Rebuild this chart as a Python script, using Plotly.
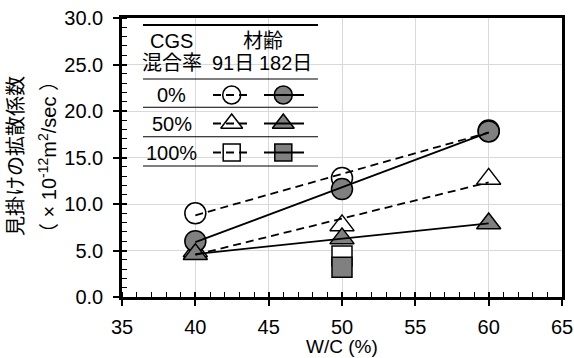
import numpy as np
import plotly.graph_objects as go

# ---------------- data ----------------
WC = [40, 50, 60]                      # W/C (%)
D_0_91 = [9.0, 12.8, 17.9]             # CGS 0%, 91 days
D_0_182 = [6.0, 11.6, 17.8]            # CGS 0%, 182 days
D_50_91 = [4.9, 7.7, 12.7]             # CGS 50%, 91 days
D_50_182 = [4.6, 6.3, 7.9]             # CGS 50%, 182 days
WC_100 = [50]
D_100_91 = [4.4]                       # CGS 100%, 91 days
D_100_182 = [3.2]                      # CGS 100%, 182 days

CGS_LABELS = ["0%", "50%", "100%"]
AGE_LABELS = ["91日", "182日"]
HEAD_1 = ["CGS", "材齢"]
HEAD_2 = "混合率"
X_TITLE = "W/C (%)"
Y_TITLE_1 = "見掛けの拡散係数"
Y_TITLE_2 = "（ × 10<sup>-12</sup>m<sup>2</sup>/sec ）"

# ---------------- style / geometry ----------------
W, H = 574, 358
ML, MR, MT, MB = 122, 12, 18, 61
PW, PH = W - ML - MR, H - MT - MB
FONT = "Liberation Sans, Arial, Noto Sans CJK JP, sans-serif"
FS = 20
GRAY = "#808080"
BLACK = "#000000"
GRID = "#d9d9d9"
DASH = "8px,5px"

def fx(px):
    return (px - ML) / PW

def fy(py):
    return (H - MB - py) / PH

fig = go.Figure()

# marker traces: 91-day (open) first, then 182-day (filled) on top
marker_specs = [
    (WC, D_0_91, "circle", "white", 21),
    (WC, D_50_91, "triangle-up", "white", 21),
    (WC_100, D_100_91, "square", "white", 20),
    (WC, D_0_182, "circle", GRAY, 21),
    (WC, D_50_182, "triangle-up", GRAY, 21),
    (WC_100, D_100_182, "square", GRAY, 20),
]
for xs, ys, sym, fill, size in marker_specs:
    fig.add_trace(go.Scatter(
        x=xs, y=ys, mode="markers", showlegend=False, hoverinfo="skip",
        marker=dict(symbol=sym, size=size, color=fill,
                    line=dict(color=BLACK, width=1.5)),
    ))

# linear trendlines (drawn above markers)
line_specs = [
    (D_0_91, DASH), (D_50_91, DASH), (D_0_182, "solid"), (D_50_182, "solid"),
]
for ys, dash in line_specs:
    k, b = np.polyfit(WC, ys, 1)
    xe = [WC[0], WC[-1]]
    fig.add_trace(go.Scatter(
        x=xe, y=[k * v + b for v in xe], mode="lines", showlegend=False,
        hoverinfo="skip", line=dict(color=BLACK, width=1.8, dash=dash),
    ))

# ---------------- legend table (custom) ----------------
LEG_X0, LEG_X1 = 143, 318
LEG_LINES_Y = [25, 79, 107.3, 136.7, 166]
ROW_Y = [95, 123.5, 152.5]
COL_X = [231.7, 283.3]
LINE_SPAN = [(213, 250), (264, 304)]
ROW_SYMS = ["circle", "triangle-up", "square"]
LEG_SIZES = [18, 19, 17]
COL_FILL = ["white", GRAY]
COL_DASH = [DASH, "solid"]

shapes = [dict(type="rect", xref="paper", yref="paper",
               x0=fx(LEG_X0 - 2), x1=fx(LEG_X1 + 2),
               y0=fy(LEG_LINES_Y[-1] + 1), y1=fy(LEG_LINES_Y[0]),
               fillcolor="white", line=dict(width=0), layer="between")]
for i, yy in enumerate(LEG_LINES_Y):
    shapes.append(dict(type="line", xref="paper", yref="paper",
                       x0=fx(LEG_X0), x1=fx(LEG_X1), y0=fy(yy), y1=fy(yy),
                       line=dict(color=BLACK, width=2.2 if i == 0 else 1.1),
                       layer="above"))

for r, ry in enumerate(ROW_Y):
    for c, cx in enumerate(COL_X):
        fig.add_trace(go.Scatter(
            x=[fx(cx)], y=[fy(ry)], xaxis="x2", yaxis="y2", mode="markers",
            showlegend=False, hoverinfo="skip",
            marker=dict(symbol=ROW_SYMS[r], size=LEG_SIZES[r], color=COL_FILL[c],
                        line=dict(color=BLACK, width=1.5)),
        ))
        x0, x1 = LINE_SPAN[c]
        fig.add_trace(go.Scatter(
            x=[fx(x0), fx(x1)], y=[fy(ry), fy(ry)], xaxis="x2", yaxis="y2",
            mode="lines", showlegend=False, hoverinfo="skip",
            line=dict(color=BLACK, width=1.8, dash=COL_DASH[c]),
        ))

annotations = []
def txt(s, px, py, size=FS, angle=0):
    annotations.append(dict(text=s, xref="paper", yref="paper", x=fx(px), y=fy(py),
                            xanchor="center", yanchor="middle", showarrow=False,
                            textangle=angle, font=dict(family=FONT, size=size, color=BLACK)))

txt(HEAD_1[0], 171.7, 41)
txt(HEAD_1[1], 262.5, 41)
txt(HEAD_2, 171.7, 62.5)
txt(AGE_LABELS[0], 233.3, 62.5)
txt(AGE_LABELS[1], 285, 62.5)
for lab, ry in zip(CGS_LABELS, [95, 124, 152.5]):
    txt(lab, 171.7, ry)

# axis titles
txt(X_TITLE, ML + PW / 2, 346.5, size=19)
txt(Y_TITLE_1, 16, 156, angle=-90)
txt(Y_TITLE_2, 47, 157, angle=-90)

axis_common = dict(showline=True, linecolor=BLACK, linewidth=2.5, mirror=True,
                   gridcolor=GRID, gridwidth=1, zeroline=False, automargin=False,
                   tickfont=dict(family=FONT, size=FS, color=BLACK),
                   ticks="outside", ticklen=6, tickwidth=1.5, tickcolor=BLACK)
hidden_common = dict(showgrid=False, showline=False, zeroline=False,
                     automargin=False, showticklabels=False)

fig.update_layout(
    width=W, height=H, margin=dict(l=ML, r=MR, t=MT, b=MB, pad=0, autoexpand=False),
    paper_bgcolor="white", plot_bgcolor="white", showlegend=False,
    font=dict(family=FONT, size=FS, color=BLACK),
    xaxis=dict(range=[35, 65], dtick=5, tick0=35, showgrid=True,
               minor=dict(dtick=1, ticks="inside", ticklen=5, tickwidth=1.2,
                          tickcolor=BLACK, showgrid=False),
               ticklabelstandoff=4, **axis_common),
    yaxis=dict(range=[0, 30], dtick=5, tick0=0, tickformat=".1f", showgrid=True,
               minor=dict(dtick=1, ticks="inside", ticklen=5, tickwidth=1.2,
                          tickcolor=BLACK, showgrid=False),
               ticklabelstandoff=6, **axis_common),
    xaxis3=dict(overlaying="x", anchor="y", range=[35, 65], dtick=5, tick0=35,
                ticks="inside", ticklen=5, tickwidth=1.5, tickcolor=BLACK,
                **hidden_common),
    yaxis3=dict(overlaying="y", anchor="x", range=[0, 30], dtick=5, tick0=0,
                ticks="inside", ticklen=5, tickwidth=1.5, tickcolor=BLACK,
                **hidden_common),
    xaxis2=dict(overlaying="x", anchor="y", range=[0, 1], visible=False,
                fixedrange=True, automargin=False),
    yaxis2=dict(overlaying="y", anchor="x", range=[0, 1], visible=False,
                fixedrange=True, automargin=False),
    shapes=shapes,
    annotations=annotations,
)

# dummy invisible trace to activate the inside-tick overlay axes
fig.add_trace(go.Scatter(x=[35], y=[0], xaxis="x3", yaxis="y3", mode="markers",
                         marker=dict(opacity=0), showlegend=False, hoverinfo="skip"))

fig.write_html("out.html", config={"displayModeBar": False},
               post_script="document.body.style.margin='0px';"
                           "document.body.style.padding='0px';")
